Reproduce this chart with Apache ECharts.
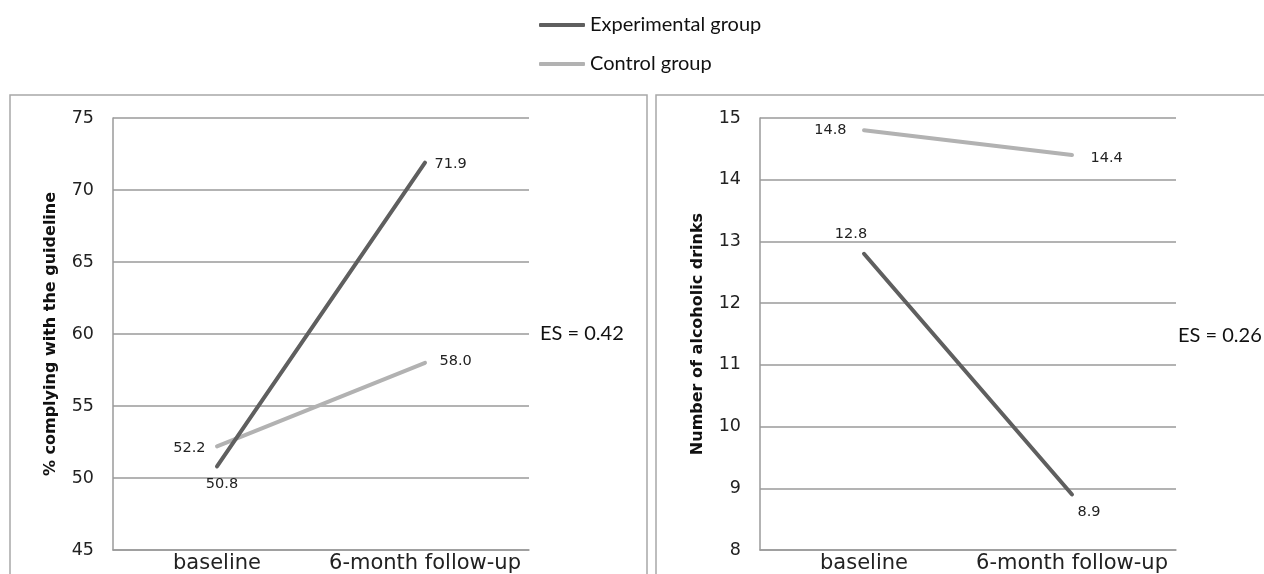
<!DOCTYPE html>
<html>
<head>
<meta charset="utf-8">
<script src="https://cdn.jsdelivr.net/npm/echarts@6/dist/echarts.min.js"></script>
<style>html,body{margin:0;padding:0;background:#fff;}#c{width:1264px;height:574px;}</style>
</head>
<body>
<div id="c"></div>
<script>
var categories = ['baseline', '6-month follow-up'];
var seriesNames = ['Experimental group', 'Control group'];
var complyExperimental = [50.8, 71.9];
var complyControl = [52.2, 58.0];
var drinksExperimental = [12.8, 8.9];
var drinksControl = [14.8, 14.4];
var effectSizes = ['ES = 0.42', 'ES = 0.26'];
var yTitles = ['% complying with the guideline', 'Number of alcoholic drinks'];

var darkColor = '#5f5f5f';
var lightColor = '#b2b2b2';
var gridColor = '#9a9a9a';
var tickFont = 'DejaVu Sans';

function mkData(values, labelCfg) {
  return values.map(function (v, i) {
    return { value: v, label: labelCfg[i] };
  });
}
function lbl(position, distance, offset) {
  return { show: true, position: position, distance: distance, offset: offset || [0, 0],
    formatter: function (p) { return p.value.toFixed(1); },
    color: '#222', fontFamily: tickFont, fontSize: 14.5 };
}

function yAxisCfg(gi, min, max, interval, name) {
  return {
    gridIndex: gi, type: 'value', min: min, max: max, interval: interval,
    name: name, nameLocation: 'middle', nameGap: 54, nameRotate: 90,
    nameTextStyle: { fontFamily: tickFont, fontWeight: 'bold', fontSize: 16, color: '#111', padding: [0, 0, 0, 0] },
    axisLine: { show: true, lineStyle: { color: gridColor, width: 1.5 } },
    axisTick: { show: false },
    axisLabel: { color: '#222', fontFamily: tickFont, fontSize: 17.5, margin: 19 },
    splitLine: { show: true, lineStyle: { color: gridColor, width: 1.5 } }
  };
}
function xAxisCfg(gi) {
  return {
    gridIndex: gi, type: 'category', data: categories, boundaryGap: true,
    axisLine: { show: true, lineStyle: { color: gridColor, width: 1.5 } },
    axisTick: { show: false },
    axisLabel: { color: '#222', fontFamily: tickFont, fontSize: 21, margin: 3, interval: 0, hideOverlap: false }
  };
}
function lineSeries(name, gi, values, color, labels) {
  return {
    name: name, type: 'line', xAxisIndex: gi, yAxisIndex: gi,
    data: mkData(values, labels), symbol: 'circle', symbolSize: 1,
    itemStyle: { color: color },
    lineStyle: { color: color, width: 4, cap: 'round' },
    emphasis: { disabled: true }, animation: false, z: color === darkColor ? 3 : 2
  };
}

var chart = echarts.init(document.getElementById('c'));
chart.setOption({
  animation: false,
  legend: {
    orient: 'vertical', left: 539, top: 15, itemGap: 19, itemWidth: 46, itemHeight: 4,
    icon: 'roundRect', padding: 0,
    data: seriesNames.map(function (n, i) {
      return { name: n, itemStyle: { color: i === 0 ? darkColor : lightColor } };
    }),
    textStyle: { fontFamily: 'Lato', fontSize: 20, color: '#111' }
  },
  grid: [
    { left: 113, top: 118, width: 416, height: 435 },
    { left: 760, top: 118, width: 416, height: 435 }
  ],
  xAxis: [xAxisCfg(0), xAxisCfg(1)],
  yAxis: [yAxisCfg(0, 45, 75, 5, yTitles[0]), yAxisCfg(1, 8, 15, 1, yTitles[1])],
  series: [
    lineSeries(seriesNames[1], 0, complyControl, lightColor,
      [lbl('left', 11, [0, 2]), lbl('right', 14, [0, -2])]),
    lineSeries(seriesNames[0], 0, complyExperimental, darkColor,
      [lbl('bottom', 10, [5, 0]), lbl('right', 9, [0, 2])]),
    lineSeries(seriesNames[1], 1, drinksControl, lightColor,
      [lbl('left', 17, [0, 0]), lbl('right', 18, [0, 3])]),
    lineSeries(seriesNames[0], 1, drinksExperimental, darkColor,
      [lbl('top', 12, [-13, 0]), lbl('bottom', 10, [17, 0])])
  ],
  graphic: [
    { type: 'rect', shape: { x: 10, y: 95, width: 637, height: 520 }, style: { fill: 'none', stroke: '#a8a8a8', lineWidth: 1.5 }, z: -1 },
    { type: 'rect', shape: { x: 656, y: 95, width: 640, height: 520 }, style: { fill: 'none', stroke: '#a8a8a8', lineWidth: 1.5 }, z: -1 },
    { type: 'text', left: 540, top: 324, style: { text: effectSizes[0], font: '20px Lato', fill: '#111' } },
    { type: 'text', left: 1178, top: 326, style: { text: effectSizes[1], font: '20px Lato', fill: '#111' } }
  ]
});
</script>
</body>
</html>
